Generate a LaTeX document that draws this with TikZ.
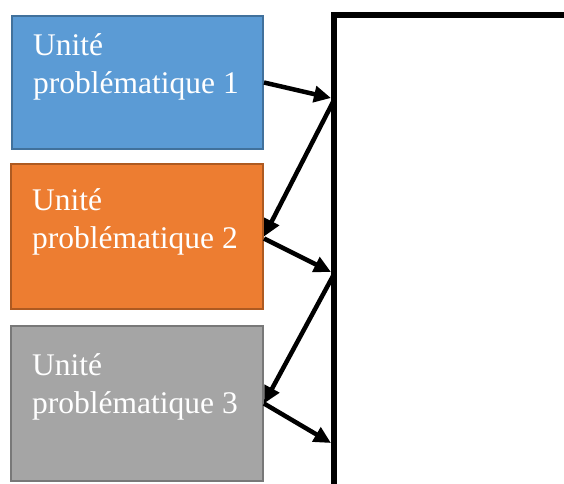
\documentclass[tikz,border=0pt]{standalone}
\usepackage{fontspec}
\setmainfont{Liberation Serif}
\usetikzlibrary{arrows.meta}
\definecolor{cblue}{HTML}{5B9BD5}
\definecolor{cbluel}{HTML}{41719C}
\definecolor{corange}{HTML}{ED7D31}
\definecolor{corangel}{HTML}{AE5A21}
\definecolor{cgray}{HTML}{A5A5A5}
\definecolor{cgrayl}{HTML}{787878}
\begin{document}
\begin{tikzpicture}[x=1pt,y=-1pt,
  unitbox/.style={draw, line width=2pt, inner sep=0pt, anchor=north west},
  unittext/.style={text=white, anchor=base west, inner sep=0pt, align=left,
    font=\fontsize{31.5}{38}\selectfont},
  arr/.style={line width=4.5pt, -{Triangle[length=17pt,width=16pt]}}]
\useasboundingbox (0,0) rectangle (564,483);
\clip (0,0) rectangle (564,483);
\node[unitbox, fill=cblue, draw=cbluel, minimum width=251pt, minimum height=133pt] (b1) at (11,15) {};
\node[unitbox, fill=corange, draw=corangel, minimum width=252pt, minimum height=145pt] (b2) at (10,163) {};
\node[unitbox, fill=cgray, draw=cgrayl, minimum width=252pt, minimum height=155pt] (b3) at (10,325) {};
\node[unittext] (t1) at (33,93) {Unité\\problématique 1};
\node[unittext] (t2) at (32,248) {Unité\\problématique 2};
\node[unittext] (t3) at (32,413) {Unité\\problématique 3};
\draw[line width=6pt] (620,15) -- (334,15) -- (334,520);
\coordinate (m1) at (331,98);
\coordinate (m1s) at (333,102);
\coordinate (m2) at (331,272);
\coordinate (m2s) at (333,276);
\coordinate (m3) at (331,443);
\draw[arr] (b1.east) -- (m1);
\draw[arr] (m1s) -- (b2.east);
\draw[arr] ([yshift=-2pt]b2.east) -- (m2);
\draw[arr] (m2s) -- (b3.east);
\draw[arr] (b3.east) -- (m3);
\end{tikzpicture}
\end{document}
